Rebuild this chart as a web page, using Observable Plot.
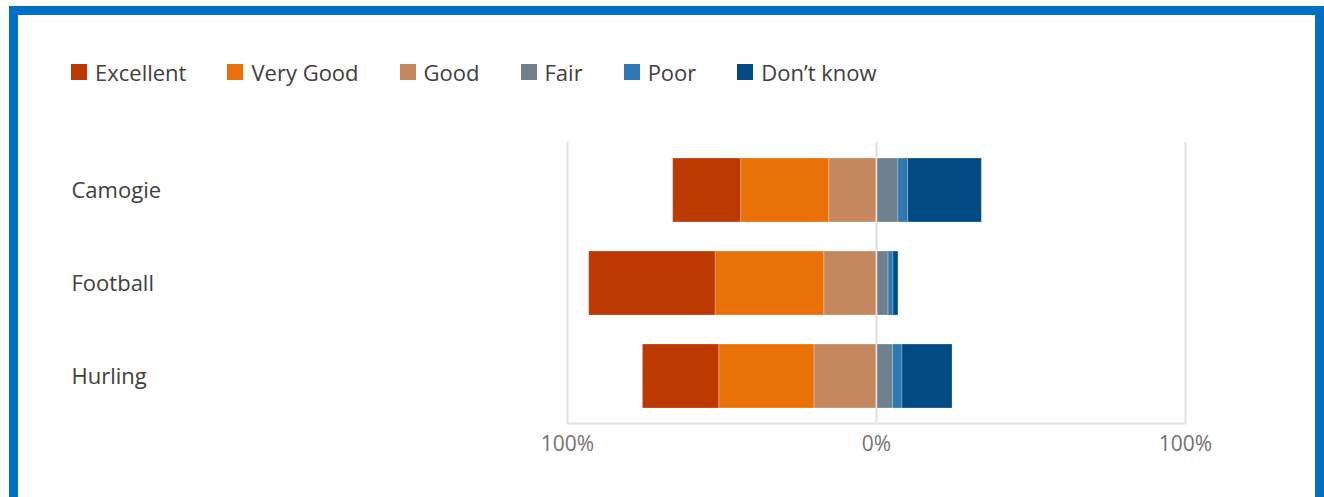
<!DOCTYPE html>
<html>
<head>
<meta charset="utf-8">
<script src="https://cdn.jsdelivr.net/npm/d3@7"></script>
<script src="https://cdn.jsdelivr.net/npm/@observablehq/plot@0.6"></script>
<style>
  html, body { margin: 0; padding: 0; background: #ffffff; overflow: hidden; }
  body { width: 1324px; height: 497px; position: relative; font-family: "Open Sans", "Noto Sans", sans-serif; }
  #frame { position: absolute; left: 9px; top: 6px; width: 1297px; height: 600px; border: 9px solid #0070C6; border-bottom: none; background: #fff; }
  #legend { position: absolute; left: 53px; top: 42px; display: flex; align-items: center; height: 30px; font-size: 22px; color: #404040; }
  .item { display: flex; align-items: center; margin-right: 41px; white-space: nowrap; }
  .sw { width: 16px; height: 16px; margin-right: 8px; }
  #chart { position: absolute; left: 0; top: 115px; }
</style>
</head>
<body>
<div id="frame">
  <div id="legend"></div>
  <div id="chart"></div>
</div>
<script>
// ---- data ----
const categories = ["Camogie", "Football", "Hurling"];
const ratings = ["Excellent", "Very Good", "Good", "Fair", "Poor", "Don\u2019t know"];
const colors = ["#BC3A02", "#EA7008", "#C4875E", "#71808F", "#2E79B2", "#024A83"];
const excellent = [22.0, 40.9, 24.7];
const veryGood  = [28.5, 35.2, 30.8];
const good      = [15.3, 16.9, 20.1];
const fair      = [7.1, 3.9, 5.3];
const poor      = [3.2, 1.6, 3.1];
const dontKnow  = [23.8, 1.6, 16.2];
const xTicks = [-100, 0, 100];

// negative side stacks outward from zero: Good, Very Good, Excellent
// positive side stacks outward: Fair, Poor, Don't know
const series = [
  {rating: ratings[2], values: good, sign: -1},
  {rating: ratings[1], values: veryGood, sign: -1},
  {rating: ratings[0], values: excellent, sign: -1},
  {rating: ratings[3], values: fair, sign: 1},
  {rating: ratings[4], values: poor, sign: 1},
  {rating: ratings[5], values: dontKnow, sign: 1}
];
const rows = [];
for (const s of series) {
  categories.forEach((c, i) => rows.push({category: c, rating: s.rating, value: s.sign * s.values[i]}));
}

// ---- legend ----
const legend = document.getElementById("legend");
ratings.forEach((r, i) => {
  const item = document.createElement("div");
  item.className = "item";
  const sw = document.createElement("div");
  sw.className = "sw";
  sw.style.background = colors[i];
  const t = document.createElement("span");
  t.textContent = r;
  item.appendChild(sw);
  item.appendChild(t);
  legend.appendChild(item);
});

// ---- chart ----
const W = 1297, H = 367;
const mL = 549, mR = 130, mT = 12, mB = 74;
const gridColor = "#e3e3e3";

const chart = Plot.plot({
  width: W,
  height: H,
  marginLeft: mL,
  marginRight: mR,
  marginTop: mT,
  marginBottom: mB,
  style: {fontFamily: "'Open Sans', 'Noto Sans', sans-serif", fontSize: "21px", background: "transparent", overflow: "visible"},
  x: {domain: [-100, 100], axis: null, label: null},
  y: {domain: categories, paddingInner: 0.317, paddingOuter: 0.158, axis: null},
  color: {domain: ratings, range: colors},
  marks: [
    Plot.ruleX(xTicks, {stroke: gridColor, strokeWidth: 2}),
    Plot.frame({anchor: "bottom", stroke: gridColor, strokeWidth: 2}),
    Plot.barX(rows, Plot.stackX({x: "value", y: "category", z: "rating", fill: "rating", order: null,
      stroke: "white", strokeOpacity: 0.25, strokeWidth: 1})),
    Plot.ruleX([0], {stroke: gridColor, strokeWidth: 1.5}),
    Plot.text(categories, {y: d => d, text: d => d, frameAnchor: "left", textAnchor: "start",
      dx: -(mL - 53), fontSize: 22, fill: "#404040"}),
    Plot.axisX({ticks: xTicks, tickSize: 0, tickPadding: 13, label: null, tickFormat: d => Math.abs(d) + "%",
      fill: "#767171", fontSize: 21})
  ]
});
document.getElementById("chart").appendChild(chart);
</script>
</body>
</html>
